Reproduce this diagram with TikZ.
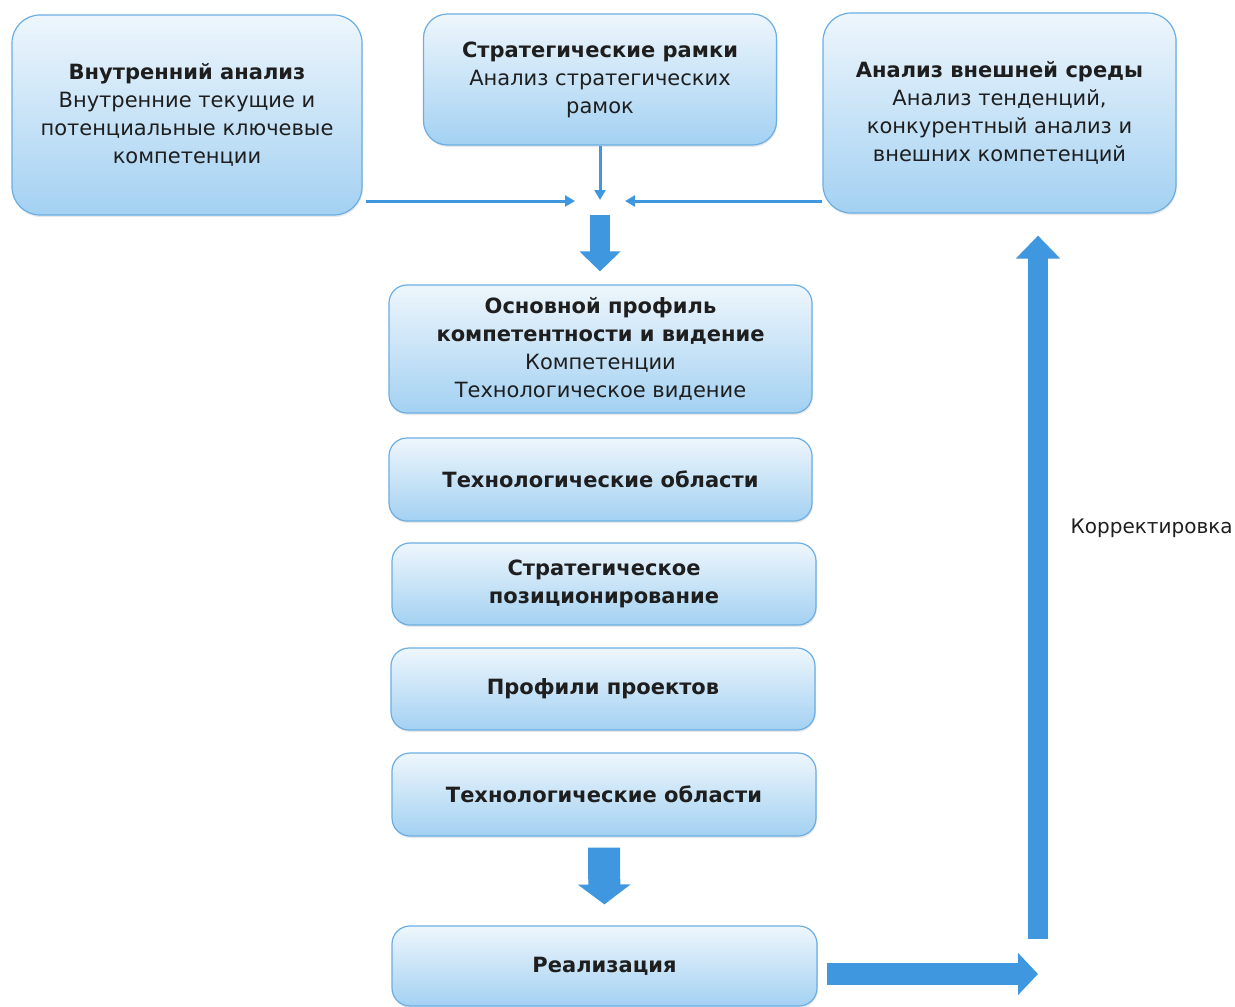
\documentclass[tikz,border=0pt]{standalone}
\usepackage{fontspec}
\setmainfont{DejaVu Sans}
\usetikzlibrary{arrows.meta,shadows}

\definecolor{boxline}{HTML}{6AAEE3}
\definecolor{boxtop}{HTML}{EEF6FC}
\definecolor{boxbottom}{HTML}{A3D1F2}
\definecolor{flowblue}{HTML}{3F97E0}
\definecolor{textdark}{HTML}{1E1E1E}

\tikzset{
	stage/.style={draw=boxline, line width=0.6pt, rounded corners=9pt,
		top color=boxtop, bottom color=boxbottom, align=center, text=textdark,
		inner sep=0pt, font=\fontsize{10.5}{14}\selectfont,
		drop shadow={opacity=0.18, shadow xshift=0.4pt, shadow yshift=-1pt}},
	thinflow/.style={draw=flowblue, line width=1.5pt, -{Triangle[width=5.5pt,length=5pt]}},
}

\begin{document}
\begin{tikzpicture}[x=0.5pt,y=-0.5pt]
	
	%\draw[help lines] (0,0) grid[step=50] (1235,1006);
	\useasboundingbox (0,0) rectangle (1235,1006);
	
	\node[stage,rounded corners=14pt,minimum width=175pt,minimum height=100pt] (inner) at (187,115)
		{\textbf{Внутренний анализ}\\Внутренние текущие и\\потенциальные ключевые\\компетенции};
	\node[stage,rounded corners=12pt,minimum width=176.5pt,minimum height=65.5pt] (frame) at (600,79.5)
		{\textbf{Стратегические рамки}\\Анализ стратегических\\рамок};
	\node[stage,rounded corners=14pt,minimum width=176.5pt,minimum height=100pt] (outer) at (999.5,113)
		{\textbf{Анализ внешней среды}\\Анализ тенденций,\\конкурентный анализ и\\внешних компетенций};
	
	\node[stage,minimum width=211.5pt,minimum height=64pt] (core) at (600.5,349)
		{\textbf{Основной профиль}\\\textbf{компетентности и видение}\\Компетенции\\Технологическое видение};
	\node[stage,minimum width=211.5pt,minimum height=41.5pt] (techa) at (600.5,479.5)
		{\textbf{Технологические области}};
	\node[stage,minimum width=212pt,minimum height=41pt] (posit) at (604,584)
		{\textbf{Стратегическое}\\\textbf{позиционирование}};
	\node[stage,minimum width=212pt,minimum height=41pt] (proj) at (603,689)
		{\textbf{Профили проектов}};
	\node[stage,minimum width=212pt,minimum height=41.5pt] (techb) at (604,794.5)
		{\textbf{Технологические области}};
	\node[stage,minimum width=212.5pt,minimum height=40pt] (real) at (604.5,966)
		{\textbf{Реализация}};
	
	\node[text=textdark,font=\fontsize{10}{14}\selectfont,anchor=east,inner sep=0pt] (fix) at (1233,528) {Корректировка};
	
	\coordinate (merge) at (600,201);
	\coordinate (turn) at (1038,974);
	\coordinate (up) at (1038,939);
	
	\draw[thinflow,shorten <=1.5pt,shorten >=12.5pt] (inner.east |- merge) -- (merge);
	\draw[thinflow,shorten >=12.5pt] (outer.west |- merge) -- (merge);
	\draw[thinflow,shorten >=0.5pt] (frame.south) -- (merge);
	
	\draw[draw=flowblue,line width=10pt,-{Triangle[width=20pt,length=10pt]},shorten <=7pt,shorten >=6.5pt] (merge) -- (core.north -| merge);
	\draw[draw=flowblue,line width=16pt,-{Triangle[width=26pt,length=10pt]},shorten <=5.5pt,shorten >=10.5pt] (techb.south) -- (real.north);
	\draw[draw=flowblue,line width=11pt,-{Triangle[width=20.5pt,length=10pt]},shorten <=4.5pt] (real.east |- turn) -- (turn);
	\draw[draw=flowblue,line width=10pt,-{Triangle[width=21.5pt,length=11.5pt]},shorten >=11pt] (up) -- (up |- outer.south);
	
\end{tikzpicture}
\end{document}
